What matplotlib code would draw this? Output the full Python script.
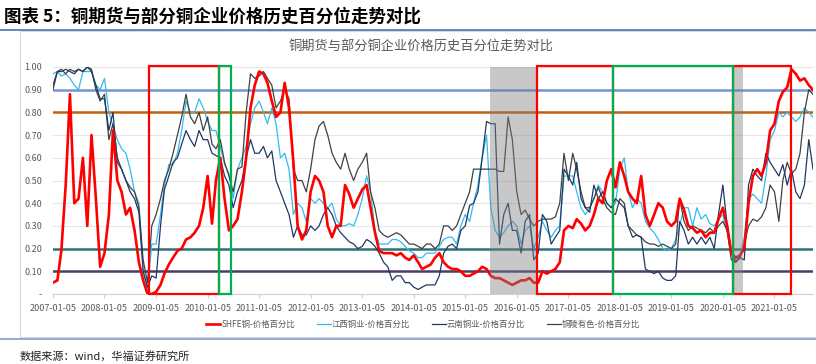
import matplotlib
matplotlib.use('Agg')
import matplotlib.pyplot as plt
from matplotlib.patches import Rectangle
import matplotlib.dates as mdates
import numpy as np
import pandas as pd

plt.rcParams['font.family'] = ['Noto Sans CJK SC', 'DejaVu Sans']

# monthly readings, 2007-01 .. 2021-10
dates = pd.date_range('2007-01-01', '2021-10-01', freq='MS') + pd.Timedelta(days=4)

shfe = [
    0.05, 0.06, 0.19, 0.48, 0.88, 0.40, 0.42, 0.60, 0.30, 0.70, 0.42, 0.12,  # 2007
    0.18, 0.35, 0.72, 0.50, 0.45, 0.35, 0.38, 0.28, 0.14, 0.06, 0.00, 0.00,  # 2008
    0.01, 0.04, 0.09, 0.13, 0.16, 0.19, 0.20, 0.24, 0.25, 0.27, 0.30, 0.38,  # 2009
    0.52, 0.31, 0.50, 0.60, 0.42, 0.28, 0.30, 0.33, 0.45, 0.60, 0.82, 0.92,  # 2010
    0.98, 0.97, 0.93, 0.85, 0.78, 0.80, 0.93, 0.82, 0.58, 0.30, 0.24, 0.28,  # 2011
    0.45, 0.52, 0.50, 0.45, 0.30, 0.25, 0.30, 0.30, 0.48, 0.44, 0.38, 0.42,  # 2012
    0.46, 0.48, 0.38, 0.27, 0.19, 0.18, 0.18, 0.18, 0.17, 0.18, 0.16, 0.15,  # 2013
    0.17, 0.14, 0.11, 0.12, 0.13, 0.16, 0.18, 0.14, 0.12, 0.11, 0.11, 0.10,  # 2014
    0.08, 0.08, 0.09, 0.10, 0.12, 0.11, 0.08, 0.07, 0.07, 0.06, 0.05, 0.04,  # 2015
    0.05, 0.06, 0.06, 0.07, 0.05, 0.05, 0.10, 0.09, 0.10, 0.11, 0.14, 0.28,  # 2016
    0.30, 0.29, 0.33, 0.31, 0.28, 0.30, 0.35, 0.42, 0.40, 0.50, 0.55, 0.47,  # 2017
    0.58, 0.52, 0.45, 0.42, 0.40, 0.52, 0.35, 0.30, 0.35, 0.40, 0.38, 0.32,  # 2018
    0.30, 0.32, 0.42, 0.37, 0.30, 0.29, 0.27, 0.28, 0.25, 0.27, 0.27, 0.33,  # 2019
    0.38, 0.30, 0.18, 0.16, 0.17, 0.20, 0.40, 0.52, 0.55, 0.52, 0.58, 0.72,  # 2020
    0.75, 0.85, 0.89, 0.91, 0.99, 0.97, 0.94, 0.95, 0.92, 0.90,              # 2021
]
jiangxi = [
    0.97, 0.98, 0.96, 0.97, 0.95, 0.92, 0.90, 0.98, 0.98, 0.98, 0.92, 0.90,
    0.95, 0.80, 0.74, 0.68, 0.64, 0.62, 0.55, 0.45, 0.40, 0.10, 0.02, 0.22,
    0.22, 0.35, 0.48, 0.57, 0.57, 0.62, 0.72, 0.85, 0.80, 0.80, 0.86, 0.82,
    0.76, 0.72, 0.72, 0.65, 0.57, 0.53, 0.42, 0.55, 0.60, 0.65, 0.75, 0.82,
    0.85, 0.80, 0.75, 0.82, 0.75, 0.60, 0.62, 0.55, 0.35, 0.40, 0.38, 0.32,
    0.42, 0.40, 0.42, 0.40, 0.38, 0.40, 0.33, 0.30, 0.30, 0.31, 0.30, 0.35,
    0.42, 0.52, 0.45, 0.28, 0.22, 0.22, 0.22, 0.24, 0.24, 0.23, 0.21, 0.19,
    0.18, 0.16, 0.16, 0.18, 0.18, 0.18, 0.21, 0.24, 0.25, 0.25, 0.22, 0.30,
    0.35, 0.32, 0.40, 0.48, 0.60, 0.70, 0.38, 0.28, 0.25, 0.27, 0.30, 0.32,
    0.30, 0.22, 0.28, 0.30, 0.20, 0.25, 0.32, 0.28, 0.25, 0.28, 0.30, 0.52,
    0.52, 0.52, 0.45, 0.38, 0.35, 0.38, 0.42, 0.48, 0.45, 0.40, 0.38, 0.40,
    0.55, 0.60, 0.45, 0.38, 0.42, 0.40, 0.32, 0.29, 0.27, 0.24, 0.20, 0.19,
    0.20, 0.24, 0.30, 0.38, 0.38, 0.30, 0.38, 0.33, 0.35, 0.31, 0.30, 0.33,
    0.35, 0.27, 0.18, 0.15, 0.17, 0.25, 0.42, 0.44, 0.42, 0.40, 0.52, 0.68,
    0.72, 0.80, 0.78, 0.80, 0.78, 0.76, 0.78, 0.82, 0.80, 0.78,
]
yunnan = [
    0.92, 0.98, 0.98, 0.99, 0.98, 0.97, 0.99, 0.98, 1.00, 0.98, 0.92, 0.86,
    0.86, 0.72, 0.80, 0.58, 0.55, 0.50, 0.45, 0.42, 0.36, 0.10, 0.03, 0.08,
    0.07, 0.30, 0.46, 0.52, 0.58, 0.60, 0.66, 0.72, 0.68, 0.65, 0.72, 0.68,
    0.68, 0.62, 0.61, 0.60, 0.52, 0.48, 0.38, 0.45, 0.50, 0.60, 0.68, 0.62,
    0.62, 0.65, 0.60, 0.63, 0.50, 0.45, 0.40, 0.35, 0.25, 0.30, 0.26, 0.26,
    0.30, 0.28, 0.30, 0.35, 0.38, 0.35, 0.30, 0.27, 0.25, 0.23, 0.22, 0.20,
    0.21, 0.24, 0.23, 0.21, 0.18, 0.14, 0.12, 0.06, 0.08, 0.08, 0.05, 0.05,
    0.03, 0.02, 0.03, 0.04, 0.04, 0.04, 0.08, 0.18, 0.21, 0.22, 0.20, 0.28,
    0.30, 0.39, 0.40, 0.45, 0.60, 0.76, 0.75, 0.75, 0.22, 0.35, 0.40, 0.28,
    0.28, 0.18, 0.32, 0.35, 0.15, 0.18, 0.35, 0.32, 0.22, 0.25, 0.28, 0.55,
    0.52, 0.48, 0.58, 0.42, 0.38, 0.36, 0.48, 0.42, 0.45, 0.40, 0.38, 0.42,
    0.40, 0.38, 0.30, 0.25, 0.26, 0.25, 0.11, 0.10, 0.09, 0.10, 0.07, 0.06,
    0.06, 0.08, 0.32, 0.28, 0.22, 0.25, 0.22, 0.25, 0.22, 0.25, 0.20, 0.35,
    0.48, 0.30, 0.18, 0.14, 0.16, 0.15, 0.48, 0.55, 0.52, 0.50, 0.62, 0.58,
    0.55, 0.52, 0.57, 0.48, 0.55, 0.45, 0.42, 0.48, 0.68, 0.55,
]
tongling = [
    0.90, 0.98, 0.99, 0.97, 0.99, 0.98, 0.99, 0.98, 1.00, 0.99, 0.90, 0.85,
    0.88, 0.68, 0.75, 0.60, 0.55, 0.50, 0.47, 0.45, 0.38, 0.15, 0.05, 0.30,
    0.35, 0.42, 0.50, 0.55, 0.62, 0.70, 0.78, 0.88, 0.78, 0.75, 0.80, 0.72,
    0.78, 0.66, 0.64, 0.68, 0.58, 0.52, 0.45, 0.55, 0.56, 0.80, 0.97, 0.95,
    0.96, 0.98, 0.95, 0.92, 0.82, 0.85, 0.90, 0.86, 0.55, 0.50, 0.50, 0.45,
    0.55, 0.68, 0.74, 0.76, 0.70, 0.62, 0.58, 0.55, 0.62, 0.55, 0.50, 0.55,
    0.58, 0.62, 0.45, 0.38, 0.28, 0.26, 0.25, 0.26, 0.27, 0.26, 0.24, 0.22,
    0.22, 0.21, 0.20, 0.22, 0.22, 0.20, 0.22, 0.30, 0.30, 0.28, 0.30, 0.35,
    0.40, 0.45, 0.55, 0.55, 0.55, 0.55, 0.55, 0.55, 0.54, 0.54, 0.78, 0.68,
    0.45, 0.35, 0.37, 0.33, 0.30, 0.32, 0.33, 0.33, 0.33, 0.34, 0.40, 0.62,
    0.50, 0.62, 0.55, 0.45, 0.38, 0.38, 0.42, 0.47, 0.42, 0.38, 0.36, 0.35,
    0.42, 0.40, 0.30, 0.28, 0.26, 0.25, 0.23, 0.22, 0.22, 0.21, 0.22, 0.21,
    0.20, 0.22, 0.42, 0.32, 0.28, 0.30, 0.29, 0.28, 0.27, 0.29, 0.27, 0.30,
    0.32, 0.28, 0.15, 0.14, 0.16, 0.22, 0.30, 0.33, 0.32, 0.34, 0.38, 0.48,
    0.45, 0.32, 0.50, 0.58, 0.53, 0.55, 0.62, 0.80, 0.90, 0.88,
]

series_names = ['SHFE铜-价格百分比', '江西铜业-价格百分比', '云南铜业-价格百分比', '铜陵有色-价格百分比']
series_colors = ['#ff0000', '#33bbf0', '#1f3864', '#404040']

# reference levels
ref_levels = [0.9, 0.8, 0.2, 0.1]
ref_colors = ['#7396cc', '#c0600f', '#2f7179', '#4b3c68']

# highlighted periods
red_boxes = [('2008-11-12', '2010-03-26'), ('2016-05-30', '2017-11-19'), ('2020-03-18', '2021-05-05')]
green_boxes = [('2010-03-26', '2010-06-19'), ('2017-11-19', '2020-03-18')]
gray_spans = [('2015-07-01', '2016-05-30'), ('2020-03-18', '2020-05-28')]

tick_years = list(range(2007, 2022))
ytick_vals = [0.0, 0.1, 0.2, 0.3, 0.4, 0.5, 0.6, 0.7, 0.8, 0.9, 1.0]

W, H = 816, 364
fig = plt.figure(figsize=(W / 100, H / 100), dpi=100)
fig.patch.set_facecolor('white')

# header
fig.text(4 / W, 1 - 17 / H, '图表 5：铜期货与部分铜企业价格历史百分位走势对比',
         fontsize=12.6, fontweight='bold', va='center', ha='left', color='black')
fig.add_artist(plt.Line2D([0, 1], [1 - 30 / H, 1 - 30 / H], color='#4a6fb5', lw=1.2))
fig.add_artist(plt.Line2D([0, 1], [1 - 339 / H, 1 - 339 / H], color='#7f9cc9', lw=1.2))
fig.add_artist(Rectangle((20 / W, 1 - 337 / H), 796 / W, 306 / H, fill=False,
                         edgecolor='#d9d9d9', lw=0.8, transform=fig.transFigure))
fig.text(421 / W, 1 - 46 / H, '铜期货与部分铜企业价格历史百分位走势对比',
         fontsize=9.5, color='#595959', ha='center', va='center')
fig.text(20 / W, 1 - 356 / H, '数据来源：wind，华福证券研究所',
         fontsize=8, color='#222222', ha='left', va='center')

ax = fig.add_axes([53 / W, 70 / H, 760 / W, 227 / H])

for v in ytick_vals[1:]:
    ax.axhline(v, color='#e6e6e6', lw=0.8, zorder=0)

for v, c in zip(ref_levels, ref_colors):
    ax.axhline(v, color=c, lw=1.8, zorder=2)

all_series = [shfe, jiangxi, yunnan, tongling]
lws = [1.9, 0.9, 0.9, 0.9]
zs = [6, 3, 4, 3.5]
handles = []
for vals, name, col, lw, z in zip(all_series, series_names, series_colors, lws, zs):
    ln, = ax.plot(dates, vals, color=col, lw=lw, label=name, zorder=z)
    handles.append(ln)

for a, b in gray_spans:
    ax.axvspan(pd.Timestamp(a), pd.Timestamp(b), color='#808080', alpha=0.43, lw=0, zorder=7)

for boxes, col in [(red_boxes, '#ff0000'), (green_boxes, '#00b050')]:
    for a, b in boxes:
        x0 = mdates.date2num(pd.Timestamp(a))
        x1 = mdates.date2num(pd.Timestamp(b))
        ax.add_patch(Rectangle((x0, 0), x1 - x0, 1.004, fill=False, edgecolor=col,
                               lw=1.6, clip_on=False, zorder=8))

ax.set_xlim(pd.Timestamp('2007-01-05'), pd.Timestamp('2021-10-05'))
ax.set_ylim(0, 1.0)
ax.set_xticks([pd.Timestamp(f'{y}-01-05') for y in tick_years])
ax.set_xticklabels([f'{y}-01-05' for y in tick_years])
ax.set_yticks(ytick_vals)
ax.set_yticklabels(['-'] + [f'{v:.2f}' for v in ytick_vals[1:]])
ax.tick_params(axis='both', labelsize=6.5, colors='#595959')
ax.tick_params(axis='y', length=0, pad=8)
ax.tick_params(axis='x', length=3, color='#d0d0d0', pad=4)
for s in ['top', 'right', 'left']:
    ax.spines[s].set_visible(False)
ax.spines['bottom'].set_color('#d0d0d0')

leg = fig.legend(handles=handles, loc='center', bbox_to_anchor=(423 / W, 1 - 324 / H),
                 ncol=4, frameon=False, fontsize=6, handlelength=1.7,
                 columnspacing=2.6, handletextpad=0.1)
for t in leg.get_texts():
    t.set_color('#595959')

fig.savefig('out.png', dpi=100, facecolor='white')
